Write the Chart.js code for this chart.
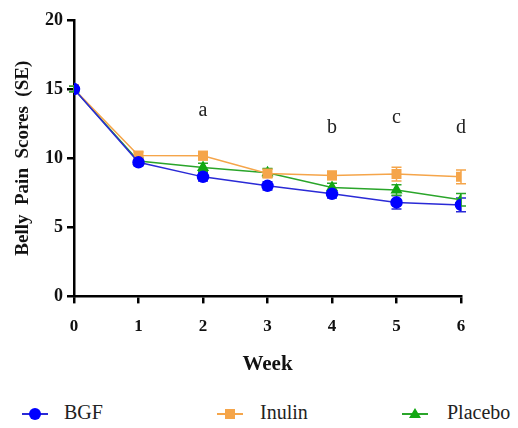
<!DOCTYPE html>
<html>
<head>
<meta charset="utf-8">
<script src="https://cdn.jsdelivr.net/npm/chart.js@4.4.1/dist/chart.umd.min.js"></script>
<style>
  html, body { margin: 0; padding: 0; background: #fff; }
  #wrap { position: relative; width: 518px; height: 428px; }
  #chart { position: absolute; left: 0; top: 0; }
  .leg { position: absolute; top: 401px; font-family: 'Liberation Serif', serif; font-size: 20px; font-weight: normal; color: #222; }
  .leg .ln { position: absolute; top: 12px; width: 26px; height: 2px; }
  .leg .mk { position: absolute; }
</style>
</head>
<body>
<div id="wrap">
  <canvas id="chart" width="518" height="385"></canvas>
  <div class="leg" style="left:22px">
    <div class="ln" style="left:0;background:#2a2ad6"></div>
    <div class="mk" style="left:7px;top:7px;width:12px;height:12px;border-radius:50%;background:#0000ff"></div>
    <span style="position:absolute;left:42px;top:0">BGF</span>
  </div>
  <div class="leg" style="left:217px">
    <div class="ln" style="left:0;background:#f5a54a"></div>
    <div class="mk" style="left:8px;top:8px;width:10px;height:10px;background:#f5a54a"></div>
    <span style="position:absolute;left:43px;top:0">Inulin</span>
  </div>
  <div class="leg" style="left:402px">
    <div class="ln" style="left:0;background:#2aa52a"></div>
    <div class="mk" style="left:7px;top:7px;width:0;height:0;border-left:6px solid transparent;border-right:6px solid transparent;border-bottom:10px solid #12a812"></div>
    <span style="position:absolute;left:45px;top:0">Placebo</span>
  </div>
</div>
<script>
// ── DATOS ──
const semanas    = [0, 1, 2, 3, 4, 5, 6];
const bgf        = [15.0, 9.7, 8.65, 8.0, 7.42, 6.8, 6.62];
const inulina    = [15.0, 10.2, 10.18, 8.9, 8.75, 8.85, 8.65];
const placebo    = [15.0, 9.8, 9.33, 8.95, 7.88, 7.7, 7.0];
const errBgf     = [0.2, 0.25, 0.3, 0.3, 0.3, 0.48, 0.5];
const errInulina = [0.2, 0.25, 0.3, 0.3, 0.3, 0.5, 0.5];
const errPlacebo = [0.2, 0.25, 0.3, 0.3, 0.3, 0.38, 0.45];
const letras     = ['a', 'b', 'c', 'd'];
const letrasX    = [2, 4, 5, 6];
const letrasY    = [13.4, 12.2, 12.9, 12.2];

const serif = "'Liberation Serif', 'DejaVu Serif', serif";

// barras de error dibujadas con las escalas del gráfico
const errorBars = {
  id: 'errorBars',
  beforeDatasetsDraw(chart) {
    const { ctx, scales: { x, y } } = chart;
    chart.data.datasets.forEach(ds => {
      ctx.save();
      ctx.strokeStyle = ds.borderColor;
      ctx.lineWidth = 1.5;
      ds.data.forEach((v, i) => {
        const px = x.getPixelForValue(semanas[i]);
        const top = y.getPixelForValue(v + ds.err[i]);
        const bot = y.getPixelForValue(v - ds.err[i]);
        ctx.beginPath();
        ctx.moveTo(px, top); ctx.lineTo(px, bot);
        ctx.moveTo(px - 5, top); ctx.lineTo(px + 5, top);
        ctx.moveTo(px - 5, bot); ctx.lineTo(px + 5, bot);
        ctx.stroke();
      });
      ctx.restore();
    });
  }
};

// letras de significancia
const letrasPlugin = {
  id: 'letras',
  afterDraw(chart) {
    const { ctx, scales: { x, y } } = chart;
    ctx.save();
    ctx.font = `20px ${serif}`;
    ctx.fillStyle = '#222';
    ctx.textAlign = 'center';
    ctx.textBaseline = 'middle';
    letras.forEach((l, i) => {
      ctx.fillText(l, x.getPixelForValue(letrasX[i]), y.getPixelForValue(letrasY[i]));
    });
    ctx.restore();
  }
};

function serie(label, data, err, color, pointColor, style, radius) {
  return {
    label, data, err,
    borderColor: color,
    backgroundColor: pointColor,
    pointBackgroundColor: pointColor,
    pointBorderColor: pointColor,
    pointStyle: style,
    pointRadius: radius,
    borderWidth: 1.5,
    tension: 0,
  };
}

new Chart(document.getElementById('chart').getContext('2d'), {
  type: 'line',
  data: {
    labels: semanas,
    datasets: [
      serie('BGF', bgf, errBgf, '#2a2ad6', '#0000ff', 'circle', 5.5),
      serie('Inulin', inulina, errInulina, '#f5a54a', '#f5a54a', 'rect', 6),
      serie('Placebo', placebo, errPlacebo, '#2aa52a', '#12a812', 'triangle', 5.5),
    ]
  },
  options: {
    responsive: false,
    animation: false,
    layout: { padding: { top: 20, right: 57, bottom: 8, left: 0 } },
    plugins: { legend: { display: false }, tooltip: { enabled: false } },
    scales: {
      x: {
        type: 'linear', min: 0, max: 6,
        border: { color: '#000', width: 2.5 },
        grid: { drawOnChartArea: false, color: '#000', lineWidth: 2.5, tickLength: 7 },
        ticks: { stepSize: 1, padding: 13, color: '#111', font: { family: serif, size: 17, weight: 'bold' } },
        title: { display: true, text: 'Week', color: '#111', padding: { top: 2, bottom: 0 }, font: { family: serif, size: 21, weight: 'bold' } }
      },
      y: {
        min: 0, max: 20,
        border: { color: '#000', width: 2.5 },
        grid: { drawOnChartArea: false, color: '#000', lineWidth: 2.5, tickLength: 7 },
        ticks: { stepSize: 5, padding: 4, color: '#111', font: { family: serif, size: 18, weight: 'bold' } },
        title: { display: true, text: 'Belly  Pain  Scores  (SE)', color: '#111', padding: { top: 12, bottom: 0 }, font: { family: serif, size: 19, weight: 'bold' } },
        afterFit(scale) { scale.width = 74; }
      }
    }
  },
  plugins: [errorBars, letrasPlugin]
});
</script>
</body>
</html>
